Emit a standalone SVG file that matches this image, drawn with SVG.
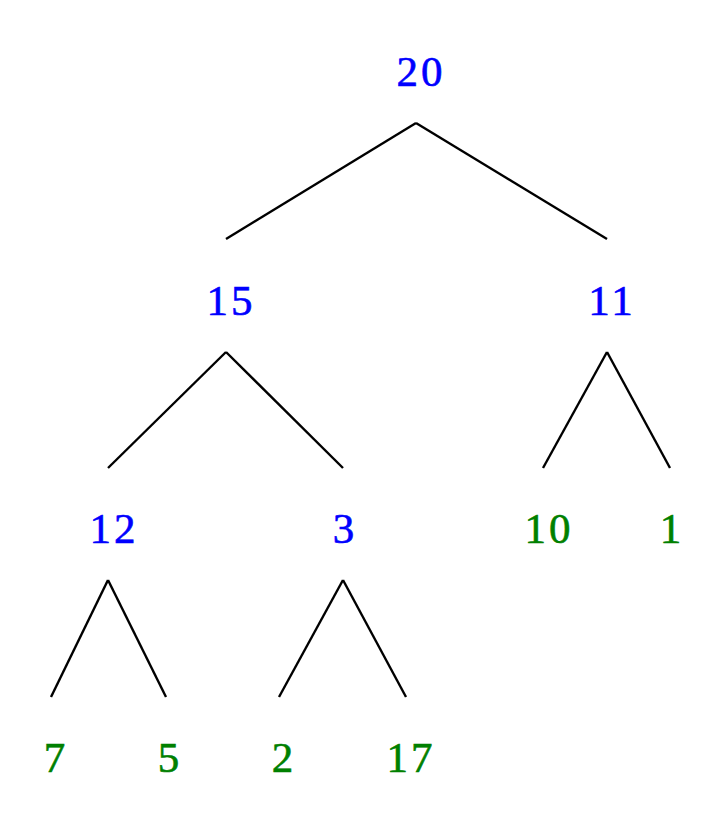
<svg xmlns="http://www.w3.org/2000/svg" width="720" height="814" viewBox="0 0 720 814">
<style>
text{font-family:"Liberation Serif","DejaVu Serif",serif;font-size:43px;text-anchor:middle;letter-spacing:3px;stroke-width:0.6}
.i{fill:#0000ff;stroke:#0000ff}
.l{fill:#008000;stroke:#008000}
#edges line{stroke:#000;stroke-width:2.4;fill:none}
</style>
<rect width="720" height="814" fill="#fff"/>
<g id="edges">
<line x1="416" y1="123" x2="226" y2="239"/>
<line x1="416" y1="123" x2="607" y2="239"/>
<line x1="226" y1="352" x2="108" y2="468"/>
<line x1="226" y1="352" x2="343" y2="468"/>
<line x1="607" y1="352" x2="543" y2="468"/>
<line x1="607" y1="352" x2="670" y2="468"/>
<line x1="108" y1="580" x2="51" y2="697"/>
<line x1="108" y1="580" x2="166" y2="697"/>
<line x1="343" y1="580" x2="279" y2="697"/>
<line x1="343" y1="580" x2="406" y2="697"/>
</g>
<g id="n20"><text class="i" x="421" y="86">20</text></g>
<g id="n15"><text class="i" x="231" y="315">15</text></g>
<g id="n11"><text class="i" x="612" y="315">11</text></g>
<g id="n12"><text class="i" x="114" y="543">12</text></g>
<g id="n3"><text class="i" x="345" y="543">3</text></g>
<g id="n10"><text class="l" x="549" y="543">10</text></g>
<g id="n1"><text class="l" x="672" y="543">1</text></g>
<g id="n7"><text class="l" x="56" y="772">7</text></g>
<g id="n5"><text class="l" x="170" y="772">5</text></g>
<g id="n2"><text class="l" x="284" y="772">2</text></g>
<g id="n17"><text class="l" x="411" y="772">17</text></g>
</svg>
